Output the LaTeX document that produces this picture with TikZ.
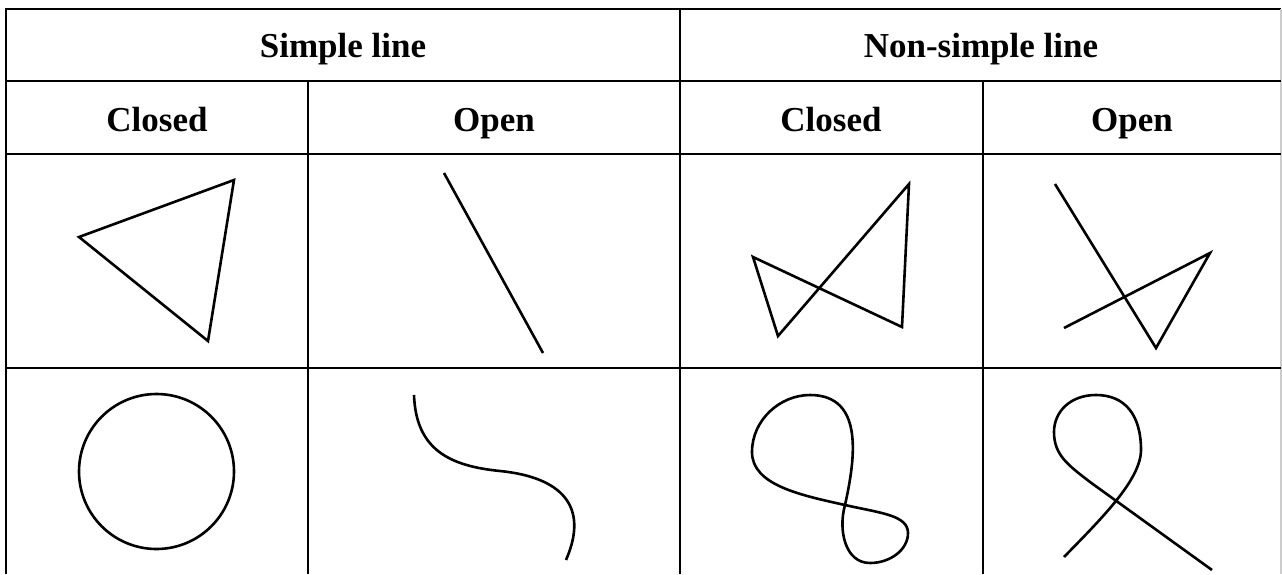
\documentclass[tikz,border=0pt]{standalone}
\usepackage{fontspec}
\setmainfont{Liberation Serif}
\usepackage{tikz}

\tikzset{
    rule/.style={line width=1.3pt},
    shape line/.style={line width=1.3pt, line join=miter},
    head/.style={font=\fontsize{17.5}{20}\selectfont\bfseries, anchor=base, inner sep=0pt},
}

\begin{document}
\begin{tikzpicture}[x=0.5pt, y=-0.5pt]
    \useasboundingbox (0,0) rectangle (1282,574);

    % Table rules
    \draw[rule] (6,574) -- (6,9) -- (1281,9);
    \draw[line width=0.6pt, gray!40] (1281,9) -- (1281,574);
    \draw[rule] (6,81) -- (1281,81);
    \draw[rule] (6,154) -- (1281,154);
    \draw[rule] (6,368) -- (1281,368);
    \draw[rule] (680,9) -- (680,574);
    \draw[rule] (308,81) -- (308,574);
    \draw[rule] (983,81) -- (983,574);

    % Header rows
    \node[head] (simple) at (343,57) {Simple line};
    \node[head] (nonsimple) at (981,57) {Non-simple line};
    \node[head] (closedA) at (157,131) {Closed};
    \node[head] (openA) at (494,131) {Open};
    \node[head] (closedB) at (831,131) {Closed};
    \node[head] (openB) at (1132,131) {Open};

    % Straight lines
    \draw[shape line] (79,237) -- (234,180) -- (208,341) -- cycle;
    \draw[shape line] (444,173) -- (543,353);
    \draw[shape line] (753,257) -- (778,336) -- (909,184) -- (902,327) -- cycle;
    \draw[shape line] (1055,184) -- (1156,348) -- (1210,253) -- (1064,328);

    % Curved lines
    \draw[shape line] (156.5,471.5) circle[radius=77.5];
    \draw[shape line] (414,395) .. controls (416,450) and (450,466) .. (500,471)
        .. controls (560,477) and (590,505) .. (566,560);
    % figure eight
    \draw[shape line] (845,505) .. controls (855,460) and (865,395) .. (810,395)
        .. controls (780,395) and (752,420) .. (752,452)
        .. controls (752,485) and (800,495) .. (845,505)
        .. controls (880,513) and (908,515) .. (908,533)
        .. controls (908,550) and (890,563) .. (870,563)
        .. controls (845,563) and (838,530) .. cycle;
    % loop with two free ends
    \draw[shape line] (1064,557) .. controls (1100,520) and (1141,480) .. (1141,450)
        .. controls (1141,415) and (1125,395) .. (1096,395)
        .. controls (1070,395) and (1054,412) .. (1054,432)
        .. controls (1054,455) and (1068,465) .. (1090,482) -- (1212,570);
\end{tikzpicture}
\end{document}
